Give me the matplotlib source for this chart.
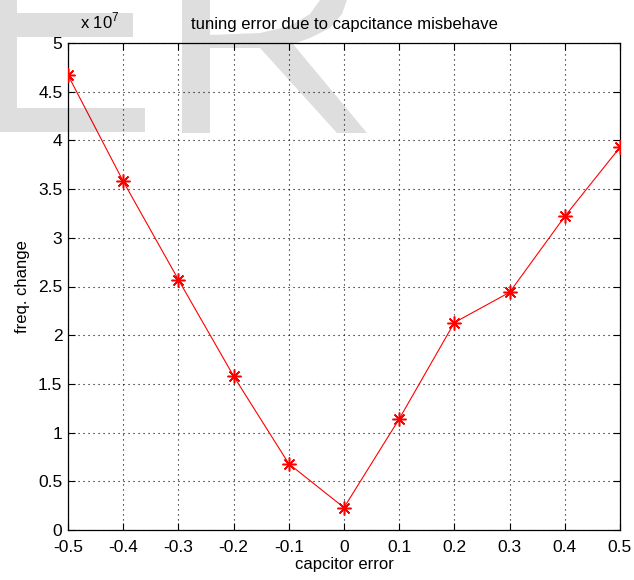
import matplotlib
matplotlib.use("Agg")
import matplotlib.pyplot as plt
from matplotlib.patches import Polygon
from matplotlib.ticker import FuncFormatter

# ---- data ----
cap_error = [-0.5, -0.4, -0.3, -0.2, -0.1, 0.0, 0.1, 0.2, 0.3, 0.4, 0.5]
freq_change = [4.67e7, 3.58e7, 2.57e7, 1.58e7, 0.68e7, 0.23e7,
               1.14e7, 2.13e7, 2.44e7, 3.22e7, 3.93e7]
x_ticks = [-0.5, -0.4, -0.3, -0.2, -0.1, 0, 0.1, 0.2, 0.3, 0.4, 0.5]
y_ticks = [0, 0.5e7, 1e7, 1.5e7, 2e7, 2.5e7, 3e7, 3.5e7, 4e7, 4.5e7, 5e7]

plt.rcParams['font.family'] = ['Liberation Sans', 'DejaVu Sans']
plt.rcParams['axes.unicode_minus'] = False
plt.rcParams['mathtext.fontset'] = 'custom'
plt.rcParams['mathtext.rm'] = 'Liberation Sans'

W, H = 634, 580
fig = plt.figure(figsize=(W / 100, H / 100), dpi=100)
ax = fig.add_axes([68 / W, 1 - 530 / H, (620 - 68) / W, (530 - 43) / H])

ax.plot(cap_error, freq_change, color='red', lw=0.8, marker=(8, 2, 0),
        markersize=10, markeredgewidth=1.1, zorder=3)

ax.set_xlim(-0.5, 0.5)
ax.set_ylim(0, 5e7)
ax.set_xticks(x_ticks)
ax.set_yticks(y_ticks)
ax.xaxis.set_major_formatter(FuncFormatter(lambda v, p: ('%g' % round(v, 2))))
ax.yaxis.set_major_formatter(FuncFormatter(lambda v, p: ('%g' % round(v / 1e7, 2))))
ax.tick_params(direction='in', length=5, width=0.8, labelsize=12.5,
               top=True, right=True, colors='black')
ax.tick_params(axis='x', pad=7)
ax.tick_params(axis='y', pad=4)
ax.grid(True, color='black', linestyle=(0, (1, 3.5)), linewidth=0.8)
for s in ax.spines.values():
    s.set_linewidth(0.9)

ax.set_title('tuning error due to capcitance misbehave', fontsize=12, pad=10)
ax.set_xlabel('capcitor error', fontsize=12, labelpad=2)
ax.set_ylabel('freq. change', fontsize=12, labelpad=6)
fig.text(80 / W, 1 - 28 / H, r'x 10$^{7}$', fontsize=12, ha='left', va='baseline')

# ---- watermark ----
def P(pts):
    return [(x / W, 1 - y / H) for x, y in pts]

wm = dict(facecolor='black', alpha=0.13, edgecolor='none',
          transform=fig.transFigure, zorder=10)
shapes = [
    [(0, 0), (17, 0), (17, 132), (0, 132)],
    [(17, 13), (133, 13), (133, 37), (17, 37)],
    [(17, 108), (145, 108), (145, 132), (17, 132)],
    [(182, 0), (210, 0), (210, 133), (182, 133)],
    [(210, 35), (260, 33), (290, 26), (310, 14), (320, 0), (347, 0),
     (342, 14), (330, 28), (310, 38), (293, 44), (367, 133), (337, 133),
     (260, 48), (210, 48)],
]
for sh in shapes:
    fig.patches.append(Polygon(P(sh), closed=True, **wm))

fig.savefig('out.png', dpi=100)
